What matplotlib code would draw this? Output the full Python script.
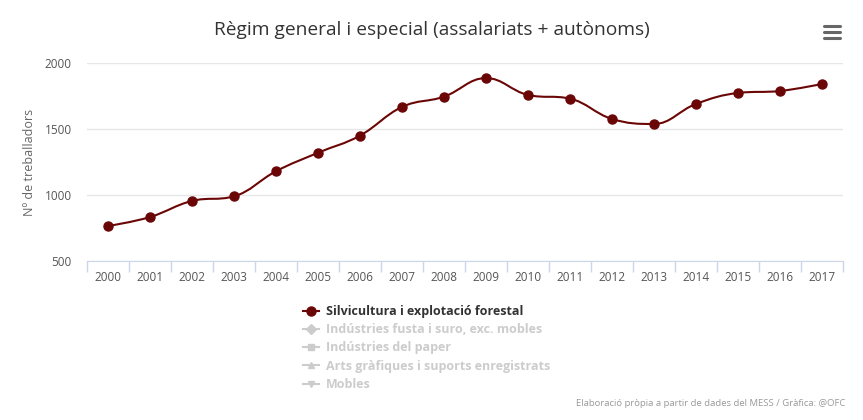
import matplotlib
matplotlib.use("Agg")
import matplotlib.pyplot as plt
import numpy as np
from matplotlib.path import Path
from matplotlib.patches import PathPatch
from matplotlib.lines import Line2D

plt.rcParams['font.family'] = ['Open Sans', 'DejaVu Sans']

years = [str(y) for y in range(2000, 2018)]
treballadors = [765, 833, 955, 990, 1180, 1320, 1450, 1667, 1745, 1886,
                1758, 1730, 1576, 1538, 1690, 1773, 1788, 1841]
series_names = ["Silvicultura i explotació forestal",
                "Indústries fusta i suro, exc. mobles",
                "Indústries del paper",
                "Arts gràfiques i suports enregistrats",
                "Mobles"]

line_color = '#6b0606'


def spline_path(xs, ys, smoothing=1.5):
    # Highcharts-style spline: bezier control points per point
    n = len(xs)
    denom = smoothing + 1
    lc = [(xs[i], ys[i]) for i in range(n)]
    rc = [(xs[i], ys[i]) for i in range(n)]
    for i in range(1, n - 1):
        px, py = xs[i], ys[i]
        lx, ly = xs[i - 1], ys[i - 1]
        nx, ny = xs[i + 1], ys[i + 1]
        lcx = (smoothing * px + lx) / denom
        lcy = (smoothing * py + ly) / denom
        rcx = (smoothing * px + nx) / denom
        rcy = (smoothing * py + ny) / denom
        corr = (rcy - lcy) * (rcx - px) / (rcx - lcx) + py - rcy
        lcy += corr
        rcy += corr
        if lcy > ly and lcy > py:
            lcy = max(ly, py); rcy = 2 * py - lcy
        elif lcy < ly and lcy < py:
            lcy = min(ly, py); rcy = 2 * py - lcy
        if rcy > ny and rcy > py:
            rcy = max(ny, py); lcy = 2 * py - rcy
        elif rcy < ny and rcy < py:
            rcy = min(ny, py); lcy = 2 * py - rcy
        lc[i] = (lcx, lcy)
        rc[i] = (rcx, rcy)
    verts = [(xs[0], ys[0])]
    codes = [Path.MOVETO]
    for i in range(1, n):
        verts += [rc[i - 1], lc[i], (xs[i], ys[i])]
        codes += [Path.CURVE4] * 3
    return Path(verts, codes)


fig = plt.figure(figsize=(8.63, 4.2), dpi=100)
ax = fig.add_axes([87 / 863, 1 - 261 / 420, (843 - 87) / 863, (261 - 63) / 420])

x = np.arange(len(years))
ax.add_patch(PathPatch(spline_path(x, treballadors), facecolor='none',
                       edgecolor=line_color, lw=1.5, zorder=3))
ax.plot(x, treballadors, 'o', color=line_color, ms=6.5, zorder=4)

ax.set_xlim(-0.5, len(years) - 0.5)
ax.set_ylim(500, 2000)
ax.set_yticks([500, 1000, 1500, 2000])
ax.set_xticks(x)
ax.set_xticklabels(years)
ax.set_xticks(np.arange(-0.5, len(years)), minor=True)
ax.grid(axis='y', color='#e6e6e6', lw=1)
ax.set_axisbelow(True)
for s in ['top', 'right', 'left']:
    ax.spines[s].set_visible(False)
ax.spines['bottom'].set_color('#ccd6eb')
ax.tick_params(axis='x', which='major', length=0, pad=7, labelsize=8.5, labelcolor='#555555')
ax.tick_params(axis='x', which='minor', length=8, color='#ccd6eb', width=1)
ax.tick_params(axis='y', length=0, pad=11, labelsize=8.5, labelcolor='#555555')
ax.set_ylabel("Nº de treballadors", color='#666666', fontsize=9, labelpad=6)

fig.text(0.5, 1 - 30 / 420, "Règim general i especial (assalariats + autònoms)",
         ha='center', va='center', fontsize=13.8, color='#333333')

# legend
grey = '#cccccc'
handles = [Line2D([], [], color=line_color, marker='o', ms=6.5, lw=1.5)]
for m in ['D', 's', '^', 'v']:
    handles.append(Line2D([], [], color=grey, marker=m, ms=5, lw=1.5))
leg = fig.legend(handles, series_names, loc='upper left',
                 bbox_to_anchor=(298 / 863, 1 - 300 / 420), frameon=False,
                 prop={'weight': 'bold', 'size': 9}, handlelength=1.3,
                 handletextpad=0.5, labelspacing=0.42, borderaxespad=0)
for i, t in enumerate(leg.get_texts()):
    t.set_color('#333333' if i == 0 else grey)

# menu icon
for yy in [26, 32, 38]:
    fig.add_artist(Line2D([824 / 863, 840 / 863], [1 - yy / 420] * 2,
                          color='#666666', lw=2.2, solid_capstyle='round'))

fig.text(845 / 863, 1 - 404 / 420,
         "Elaboració pròpia a partir de dades del MESS / Gràfica: @OFC",
         ha='right', va='center', fontsize=6.8, color='#999999')

fig.savefig("out.png", dpi=100)
